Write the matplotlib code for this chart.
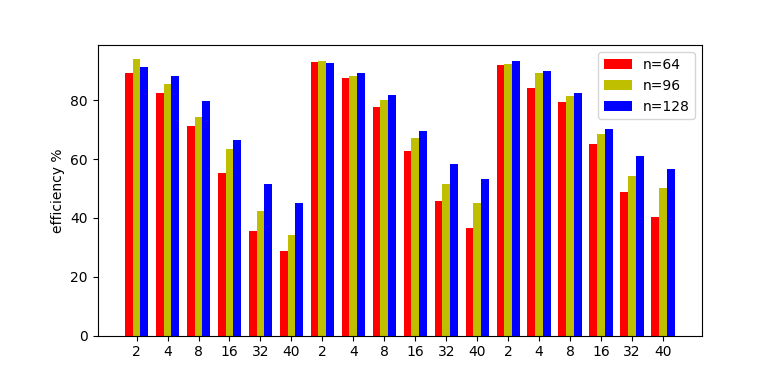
import numpy as np
import matplotlib.pyplot as plt

labels = ['2', '4', '8', '16', '32', '40'] * 3

eff_64 = [89.3, 82.5, 71.3, 55.4, 35.4, 28.9,
          93.0, 87.6, 77.7, 62.8, 45.9, 36.7,
          92.0, 84.2, 79.4, 65.2, 48.9, 40.4]
eff_96 = [94.0, 85.5, 74.3, 63.5, 42.5, 34.3,
          93.3, 88.2, 80.1, 67.2, 51.6, 45.2,
          92.3, 89.3, 81.5, 68.6, 54.3, 50.3]
eff_128 = [91.3, 88.2, 79.8, 66.5, 51.6, 45.2,
           92.6, 89.3, 81.8, 69.6, 58.4, 53.3,
           93.3, 89.9, 82.5, 70.3, 61.1, 56.7]

x = np.arange(len(labels))
w = 0.25

fig, ax = plt.subplots(figsize=(7.8, 3.77), dpi=100)
ax.bar(x - w, eff_64, w, color='r', label='n=64')
ax.bar(x, eff_96, w, color='y', label='n=96')
ax.bar(x + w, eff_128, w, color='b', label='n=128')

ax.set_xticks(x)
ax.set_xticklabels(labels)
ax.set_ylabel('efficiency %')
ax.legend(loc='upper right')

plt.savefig('out.png')
